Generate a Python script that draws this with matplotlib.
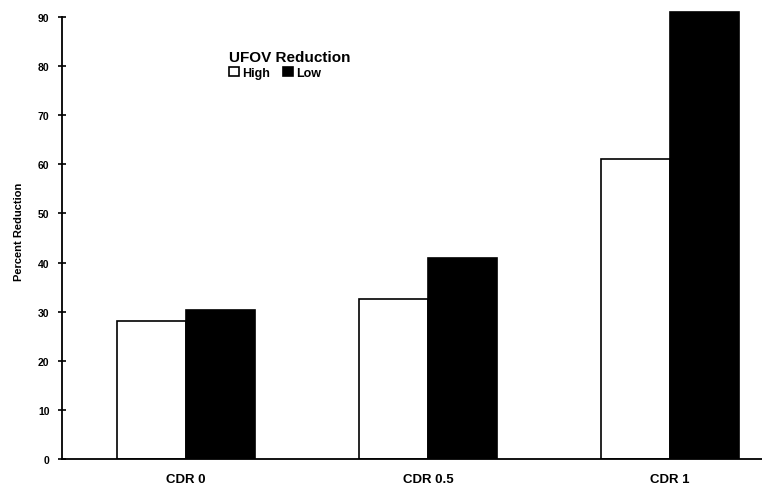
import matplotlib
matplotlib.use("Agg")
import matplotlib.pyplot as plt
import numpy as np

categories = ["CDR 0", "CDR 0.5", "CDR 1"]
high_values = [28.0, 32.6, 61.1]
low_values = [30.3, 41.0, 91.0]
series_names = ["High", "Low"]
yticks = [0, 10, 20, 30, 40, 50, 60, 70, 80, 90]

plt.rcParams['font.family'] = ['Liberation Sans', 'DejaVu Sans']

fig = plt.figure(figsize=(7.62, 4.89), dpi=100)
ax = fig.add_axes([62/762, 1-460/489, 1-62/762, 456.7/489])

x = np.arange(len(categories))
w = 0.285
b1 = ax.bar(x - w/2, high_values, w, color="white", edgecolor="black", linewidth=1.2, label=series_names[0])
b2 = ax.bar(x + w/2, low_values, w, color="black", edgecolor="black", linewidth=1.2, label=series_names[1])

ax.set_xlim(-0.512, 2.38)
ax.set_ylim(0, 93)
ax.spines['top'].set_visible(False)
ax.spines['right'].set_visible(False)
ax.spines['left'].set_bounds(0, 90)
ax.spines['left'].set_linewidth(1.3)
ax.spines['bottom'].set_linewidth(1.3)

ax.set_yticks(yticks)
ax.set_yticklabels([str(t) for t in yticks], fontsize=7.5, fontweight='bold')
ax.tick_params(axis='y', direction='inout', length=6, width=1.2, pad=6)
ax.set_xticks(x)
ax.set_xticklabels(categories, fontsize=9.5, fontweight='bold')
ax.tick_params(axis='x', length=0, pad=10)

ax.set_ylabel("Percent Reduction", fontsize=8, fontweight='bold', labelpad=10)

leg = ax.legend(handles=[b1, b2], labels=series_names, title="UFOV Reduction",
                loc='upper left', bbox_to_anchor=(223/762, 1-45/489), bbox_transform=fig.transFigure,
                ncol=2, frameon=False, handlelength=0.8, handleheight=0.8,
                handletextpad=0.2, columnspacing=1.1, borderpad=0, labelspacing=0.2,
                prop={'weight': 'bold', 'size': 9})
leg.get_title().set_fontweight('bold')
leg.get_title().set_fontsize(11)
leg._legend_box.align = "left"

fig.savefig("out.png", dpi=100)
